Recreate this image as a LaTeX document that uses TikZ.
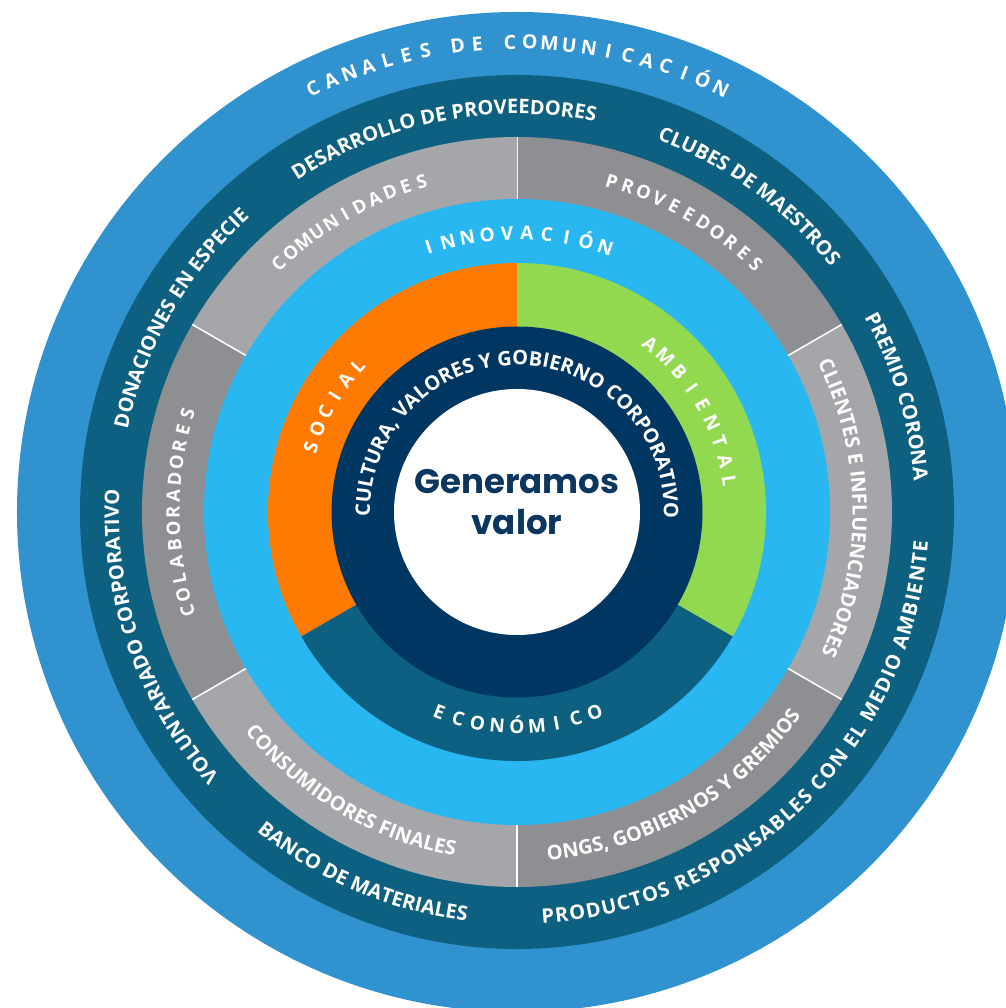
\documentclass[tikz,border=0pt]{standalone}
\usepackage{fontspec}
\setmainfont{Open Sans}
\newfontfamily\centerfont{Poppins}
\usetikzlibrary{decorations.text}

\newcommand{\ringfont}{\fontsize{20}{24}\selectfont\bfseries}
\newcommand{\spacedfont}{\fontsize{19}{23}\selectfont\bfseries}
\newcommand{\grayfont}{\fontsize{18.5}{22}\selectfont\bfseries}
\newcommand{\canalfont}{\fontsize{19.5}{24}\selectfont\bfseries}

\begin{document}
\begin{tikzpicture}[x=1pt,y=1pt,
    spacedchar/.style={text=white,inner sep=0pt,anchor=base,font=\spacedfont},
    ringtext/.style={decorate,decoration={text along path,text color=white,
        text align=center,text={|\ringfont|#1}}}]
    \definecolor{outerblue}{RGB}{49,146,208}
    \definecolor{ringteal}{RGB}{13,96,128}
    \definecolor{graylight}{RGB}{165,166,170}
    \definecolor{graydark}{RGB}{142,143,147}
    \definecolor{skyblue}{RGB}{41,183,242}
    \definecolor{socialorange}{RGB}{255,122,0}
    \definecolor{ambientgreen}{RGB}{146,217,80}
    \definecolor{corenavy}{RGB}{0,55,98}
    \definecolor{centernavy}{RGB}{10,54,96}
\useasboundingbox (-517,-496) rectangle (488,512);
\fill[outerblue] (0,0) circle[radius=500];
\fill[ringteal] (0,0) circle[radius=437];
\foreach \a/\c in {90/graydark,30/graylight,-30/graydark,-90/graylight,-150/graydark,150/graylight} {
    \fill[\c] (0,0) -- (\a:375) arc[start angle=\a, delta angle=-60, radius=375] -- cycle;
    \draw[white,line width=1.5pt] (\a:313) -- (\a:375);
  }
\fill[skyblue] (0,0) circle[radius=313];
\fill[socialorange] (0,0) -- (90:249) arc[start angle=90, delta angle=120, radius=249] -- cycle;
\fill[ambientgreen] (0,0) -- (90:249) arc[start angle=90, delta angle=-120, radius=249] -- cycle;
\fill[ringteal] (0,0) -- (210:249) arc[start angle=210, delta angle=120, radius=249] -- cycle;
\fill[corenavy] (0,0) circle[radius=185.5];
\fill[white] (0,0) circle[radius=123];
% letter spaced labels
\foreach \ch/\k [evaluate=\k as \ang using 115.73-\k*2.415] in {C/0,A/1,N/2,A/3,L/4,E/5,S/6,D/7.65,E/8.65,C/10.3,O/11.3,M/12.3,U/13.3,N/14.3,I/15.3,C/16.3,A/17.3,C/18.3,I/19.3,Ó/20.3,N/21.3}
    \node[spacedchar,font=\canalfont,rotate=\ang-90] (can\k) at (\ang:463) {\ch};
\foreach \ch [count=\i from 0, evaluate=\i as \ang using 108.45-\i*4.1] in {I,N,N,O,V,A,C,I,Ó,N}
    \node[spacedchar,rotate=\ang-90] (inn\i) at (\ang:272.2) {\ch};
\foreach \ch [count=\i from 0, evaluate=\i as \ang using 162.5-\i*5] in {S,O,C,I,A,L}
    \node[spacedchar,rotate=\ang-90] (soc\i) at (\ang:209.2) {\ch};
\foreach \ch [count=\i from 0, evaluate=\i as \ang using 51.6-\i*5.4] in {A,M,B,I,E,N,T,A,L}
    \node[spacedchar,rotate=\ang-90] (amb\i) at (\ang:207.6) {\ch};
\foreach \ch [count=\i from 0, evaluate=\i as \ang using 248.8+\i*5.3] in {E,C,O,N,Ó,M,I,C,O}
    \node[spacedchar,rotate=\ang+90] (eco\i) at (\ang:221.4) {\ch};
\foreach \ch [count=\i from 0, evaluate=\i as \ang using 133.9-\i*2.78] in {C,O,M,U,N,I,D,A,D,E,S}
    \node[spacedchar,font=\grayfont,rotate=\ang-90] (com\i) at (\ang:337.4) {\ch};
\foreach \ch [count=\i from 0, evaluate=\i as \ang using 74-\i*2.8] in {P,R,O,V,E,E,D,O,R,E,S}
    \node[spacedchar,font=\grayfont,rotate=\ang-90] (pro\i) at (\ang:337.4) {\ch};
\foreach \ch [count=\i from 0, evaluate=\i as \ang using 196.7-\i*2.78] in {C,O,L,A,B,O,R,A,D,O,R,E,S}
    \node[spacedchar,font=\grayfont,rotate=\ang-90] (col\i) at (\ang:337.4) {\ch};
% texts along the rings
\path[ringtext={DESARROLLO DE PROVEEDORES}] (161.1:398) arc[start angle=161.1, delta angle=-120, radius=398];
\path[ringtext={CLUBES DE MAESTROS}] (113.7:398) arc[start angle=113.7, delta angle=-120, radius=398];
\path[ringtext={PREMIO CORONA}] (76.85:398) arc[start angle=76.85, delta angle=-120, radius=398];
\path[ringtext={PRODUCTOS RESPONSABLES CON EL MEDIO AMBIENTE},decoration={text align={fit to path}}]
    (-86.5:412) arc[start angle=-86.5, end angle=-4.2, radius=412];
\path[ringtext={BANCO DE MATERIALES}] (186.9:412) arc[start angle=186.9, delta angle=120, radius=412];
\path[ringtext={VOLUNTARIADO CORPORATIVO}] (259.2:398) arc[start angle=259.2, delta angle=-120, radius=398];
\path[ringtext={DONACIONES EN ESPECIE}] (210.1:398) arc[start angle=210.1, delta angle=-120, radius=398];
\path[ringtext={CLIENTES E INFLUENCIADORES}] (60.75:335.5) arc[start angle=60.75, delta angle=-120, radius=335.5];
\path[ringtext={ONGS, GOBIERNOS Y GREMIOS}] (-120.3:349.5) arc[start angle=-120.3, delta angle=120, radius=349.5];
\path[ringtext={CONSUMIDORES FINALES}] (179.3:349.5) arc[start angle=179.3, delta angle=120, radius=349.5];
\path[ringtext={CULTURA, VALORES Y GOBIERNO CORPORATIVO}] (269.6:147) arc[start angle=269.6, delta angle=-360, radius=147];
\node[font={\centerfont\bfseries\fontsize{34}{40}\selectfont},text=centernavy,anchor=base] (gen) at (0,18) {Generamos};
\node[font={\centerfont\bfseries\fontsize{34}{40}\selectfont},text=centernavy,anchor=base] (val) at (0,-23) {valor};
\end{tikzpicture}
\end{document}
